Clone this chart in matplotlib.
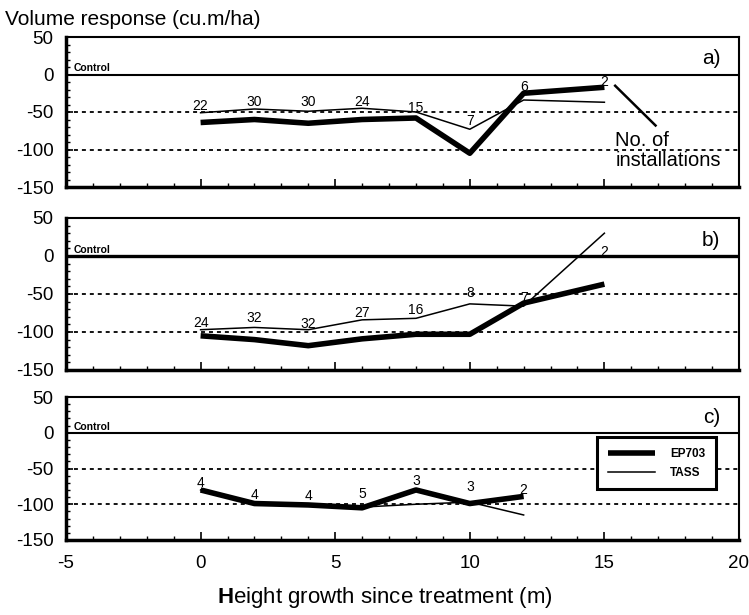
import matplotlib
matplotlib.use("Agg")
import matplotlib.pyplot as plt
from matplotlib.ticker import MultipleLocator

plt.rcParams['font.family'] = ['Liberation Sans', 'DejaVu Sans']
plt.rcParams['mathtext.fontset'] = 'custom'
plt.rcParams['mathtext.bf'] = 'Liberation Sans:bold'
plt.rcParams['mathtext.rm'] = 'Liberation Sans'
plt.rcParams['axes.unicode_minus'] = False

# ---- data ----
x_ab = [0, 2, 4, 6, 8, 10, 12, 15]
x_c = [0, 2, 4, 6, 8, 10, 12]

ep703_a = [-64, -60, -65, -60, -58, -105, -25, -17]
tass_a = [-51, -46, -49, -45, -50, -73, -34, -37]
counts_a = ["22", "30", "30", "24", "15", "7", "6", "2"]
count_y_a = [-42, -37, -37, -36, -44, -62, -17, -10]

ep703_b = [-105, -110, -118, -109, -103, -103, -62, -37]
tass_b = [-97, -94, -97, -84, -82, -63, -66, 30]
counts_b = ["24", "32", "32", "27", "16", "8", "7", "2"]
count_y_b = [-88, -82, -89, -75, -71, -49, -55, 5]

ep703_c = [-80, -99, -101, -105, -80, -99, -89]
tass_c = [-80, -98, -101, -104, -100, -97, -115]
counts_c = ["4", "4", "4", "5", "3", "3", "2"]
count_y_c = [-70, -87, -88, -85, -68, -76, -80]

panel_labels = ["a)", "b)", "c)"]
series_names = ["EP703", "TASS"]
yticks = [-150, -100, -50, 0, 50]
xticks = [-5, 0, 5, 10, 15, 20]

W, H = 749, 615
fig = plt.figure(figsize=(W / 100, H / 100), dpi=100)

left, right = 66 / W, 739 / W
boxes = [(37, 187), (218, 370), (397, 540)]
axes = []
for (t, b) in boxes:
    ax = fig.add_axes([left, 1 - b / H, right - left, (b - t) / H])
    axes.append(ax)

panels = [
    (x_ab, ep703_a, tass_a, counts_a, count_y_a, 1.5),
    (x_ab, ep703_b, tass_b, counts_b, count_y_b, 2.4),
    (x_c, ep703_c, tass_c, counts_c, count_y_c, 1.5),
]

for i, (ax, (xs, ep, ts, cnt, cy, zlw)) in enumerate(zip(axes, panels)):
    ax.set_xlim(-5, 20)
    ax.set_ylim(-150, 50)
    ax.axhline(0, color='black', lw=zlw, zorder=2)
    for yv in (-50, -100):
        ax.axhline(yv, color='black', lw=1.3, linestyle=(0, (2.2, 2.2)), zorder=1)
    ax.plot(xs, ts, color='black', lw=1.1, zorder=3, label=series_names[1])
    ax.plot(xs, ep, color='black', lw=4.0, zorder=4, label=series_names[0],
            solid_capstyle='butt')
    for xv, yv, s in zip(xs, cy, cnt):
        ax.text(xv, yv, s, fontsize=10, ha='center', va='center', zorder=5)
    ax.text(-4.7, 1.5, "Control", fontsize=7.5, ha='left', va='bottom',
            fontweight='bold')
    ax.text(19.3, 21, panel_labels[i], fontsize=15, ha='right', va='center')

    ax.set_yticks(yticks)
    ax.yaxis.set_minor_locator(MultipleLocator(10))
    ax.set_xticks(xticks)
    ax.xaxis.set_minor_locator(MultipleLocator(1))
    ax.tick_params(axis='both', which='both', direction='in', color='black',
                   top=False, right=False)
    ax.tick_params(axis='y', which='major', length=5, width=1.2,
                   labelsize=13.5, pad=9)
    ax.tick_params(axis='y', which='minor', length=3, width=1.0)
    ax.tick_params(axis='x', which='major', length=6, width=1.2,
                   labelsize=13.5, pad=11)
    ax.tick_params(axis='x', which='minor', length=3, width=1.0)
    if i < 2:
        ax.tick_params(axis='x', labelbottom=False)
    for side in ('left', 'bottom'):
        ax.spines[side].set_linewidth(2.5)
    for side in ('top', 'right'):
        ax.spines[side].set_linewidth(1.5)

# annotation in panel a
axes[0].plot([15.4, 16.9], [-15, -68], color='black', lw=1.8)
axes[0].text(15.4, -75, "No. of\ninstallations", fontsize=14.5, ha='left',
             va='top', linespacing=1.05)

# legend in panel c
handles, labels = axes[2].get_legend_handles_labels()
order = [labels.index(n) for n in series_names]
leg = axes[2].legend([handles[k] for k in order], [labels[k] for k in order],
                     loc='upper left', bbox_to_anchor=(0.789, 0.72),
                     borderaxespad=0, handlelength=4.0,
                     handletextpad=1.3, labelspacing=0.6, borderpad=0.9,
                     fancybox=False, framealpha=1, edgecolor='black',
                     prop={'weight': 'bold', 'size': 8.5})
leg.get_frame().set_linewidth(2.2)

fig.text(5 / W, 1 - 25 / H, "Volume response (cu.m/ha)", fontsize=15,
         ha='left', va='baseline')
fig.text(385 / W, 1 - 597 / H, r"$\mathbf{H}$eight growth since treatment (m)",
         fontsize=16, ha='center', va='center')

fig.savefig("out.png", dpi=100)
